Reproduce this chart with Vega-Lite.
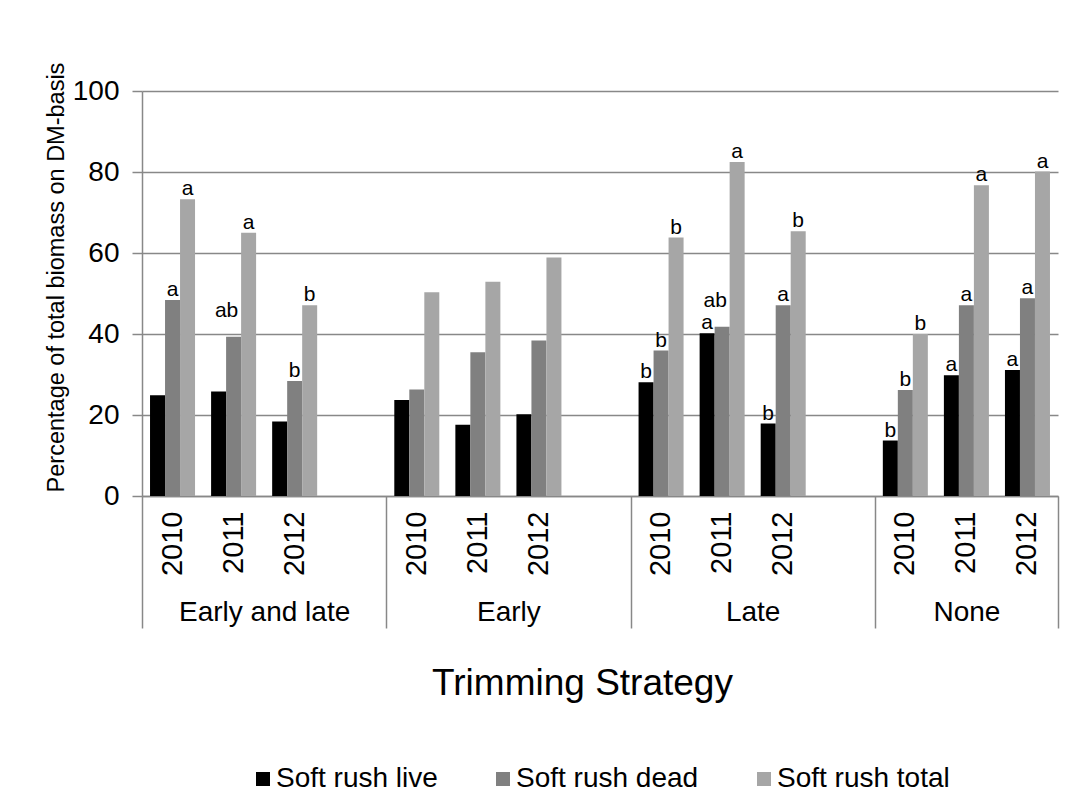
{
  "$schema": "https://vega.github.io/schema/vega-lite/v6.json",
  "autosize": "none",
  "width": 916,
  "height": 405,
  "padding": {"left": 142, "top": 91, "right": 15, "bottom": 315},
  "background": "white",
  "config": {
    "view": {"stroke": null},
    "font": "Liberation Sans",
    "axis": {"labelFont": "Liberation Sans", "titleFont": "Liberation Sans", "labelColor": "#000000", "titleColor": "#000000", "titleFontWeight": "normal"},
    "legend": {"labelFont": "Liberation Sans"}
  },
  "datasets": {
    "bars": [
      {"strategy": "Early and late", "year": "2010", "component": "Soft rush live", "value": 24.9, "sig": ""},
      {"strategy": "Early and late", "year": "2010", "component": "Soft rush dead", "value": 48.4, "sig": "a"},
      {"strategy": "Early and late", "year": "2010", "component": "Soft rush total", "value": 73.3, "sig": "a"},
      {"strategy": "Early and late", "year": "2011", "component": "Soft rush live", "value": 25.8, "sig": ""},
      {"strategy": "Early and late", "year": "2011", "component": "Soft rush dead", "value": 39.3, "sig": "ab"},
      {"strategy": "Early and late", "year": "2011", "component": "Soft rush total", "value": 65.0, "sig": "a"},
      {"strategy": "Early and late", "year": "2012", "component": "Soft rush live", "value": 18.4, "sig": ""},
      {"strategy": "Early and late", "year": "2012", "component": "Soft rush dead", "value": 28.4, "sig": "b"},
      {"strategy": "Early and late", "year": "2012", "component": "Soft rush total", "value": 47.1, "sig": "b"},
      {"strategy": "Early", "year": "2010", "component": "Soft rush live", "value": 23.7, "sig": ""},
      {"strategy": "Early", "year": "2010", "component": "Soft rush dead", "value": 26.3, "sig": ""},
      {"strategy": "Early", "year": "2010", "component": "Soft rush total", "value": 50.3, "sig": ""},
      {"strategy": "Early", "year": "2011", "component": "Soft rush live", "value": 17.6, "sig": ""},
      {"strategy": "Early", "year": "2011", "component": "Soft rush dead", "value": 35.5, "sig": ""},
      {"strategy": "Early", "year": "2011", "component": "Soft rush total", "value": 52.9, "sig": ""},
      {"strategy": "Early", "year": "2012", "component": "Soft rush live", "value": 20.2, "sig": ""},
      {"strategy": "Early", "year": "2012", "component": "Soft rush dead", "value": 38.4, "sig": ""},
      {"strategy": "Early", "year": "2012", "component": "Soft rush total", "value": 58.9, "sig": ""},
      {"strategy": "Late", "year": "2010", "component": "Soft rush live", "value": 28.1, "sig": "b"},
      {"strategy": "Late", "year": "2010", "component": "Soft rush dead", "value": 35.9, "sig": "b"},
      {"strategy": "Late", "year": "2010", "component": "Soft rush total", "value": 63.8, "sig": "b"},
      {"strategy": "Late", "year": "2011", "component": "Soft rush live", "value": 40.2, "sig": "a"},
      {"strategy": "Late", "year": "2011", "component": "Soft rush dead", "value": 41.8, "sig": "ab"},
      {"strategy": "Late", "year": "2011", "component": "Soft rush total", "value": 82.5, "sig": "a"},
      {"strategy": "Late", "year": "2012", "component": "Soft rush live", "value": 17.9, "sig": "b"},
      {"strategy": "Late", "year": "2012", "component": "Soft rush dead", "value": 47.1, "sig": "a"},
      {"strategy": "Late", "year": "2012", "component": "Soft rush total", "value": 65.4, "sig": "b"},
      {"strategy": "None", "year": "2010", "component": "Soft rush live", "value": 13.7, "sig": "b"},
      {"strategy": "None", "year": "2010", "component": "Soft rush dead", "value": 26.2, "sig": "b"},
      {"strategy": "None", "year": "2010", "component": "Soft rush total", "value": 40.0, "sig": "b"},
      {"strategy": "None", "year": "2011", "component": "Soft rush live", "value": 29.8, "sig": "a"},
      {"strategy": "None", "year": "2011", "component": "Soft rush dead", "value": 47.1, "sig": "a"},
      {"strategy": "None", "year": "2011", "component": "Soft rush total", "value": 76.7, "sig": "a"},
      {"strategy": "None", "year": "2012", "component": "Soft rush live", "value": 31.1, "sig": "a"},
      {"strategy": "None", "year": "2012", "component": "Soft rush dead", "value": 48.8, "sig": "a"},
      {"strategy": "None", "year": "2012", "component": "Soft rush total", "value": 80.1, "sig": "a"}
    ],
    "groups": [
      {"strategy": "Early and late", "start": 0, "end": 4},
      {"strategy": "Early", "start": 4, "end": 8},
      {"strategy": "Late", "start": 8, "end": 12},
      {"strategy": "None", "start": 12, "end": 15}
    ]
  },
  "layer": [
    {
      "data": {"name": "bars"},
      "transform": [{"calculate": "datum.strategy + '|' + datum.year", "as": "slot"}],
      "encoding": {
        "x": {
          "field": "slot", "type": "nominal", "sort": null,
          "scale": {
            "domain": ["Early and late|2010", "Early and late|2011", "Early and late|2012", "Early and late|gap",
                       "Early|2010", "Early|2011", "Early|2012", "Early|gap",
                       "Late|2010", "Late|2011", "Late|2012", "Late|gap",
                       "None|2010", "None|2011", "None|2012"],
            "paddingInner": 0, "paddingOuter": 0
          },
          "axis": {
            "orient": "bottom",
            "title": null,
            "labelExpr": "split(datum.label, '|')[1] == 'gap' ? '' : split(datum.label, '|')[1]",
            "labelAngle": -90, "labelAlign": "right", "labelBaseline": "middle",
            "labelFontSize": 29, "labelPadding": 15, "ticks": false,
            "domainColor": "#888888", "domainWidth": 1.5,
            "labelOverlap": false, "labelBound": false, "grid": false
          }
        },
        "xOffset": {
          "field": "component", "type": "nominal",
          "scale": {"domain": ["Soft rush live", "Soft rush dead", "Soft rush total"], "paddingInner": 0, "paddingOuter": 0.535}
        },
        "y": {
          "field": "value", "type": "quantitative",
          "scale": {"domain": [0, 100], "nice": false},
          "axis": {
            "values": [0, 20, 40, 60, 80, 100],
            "title": "Percentage of total biomass on DM-basis",
            "titleFontSize": 23.5, "titleAngle": -90, "titleAlign": "center", "titleBaseline": "alphabetic",
            "titleX": -79, "titleY": 186,
            "labelFontSize": 28, "labelPadding": 13,
            "tickSize": 10, "tickColor": "#888888", "tickWidth": 1.5,
            "domainColor": "#888888", "domainWidth": 1.5,
            "grid": true, "gridColor": "#888888", "gridWidth": 1.5
          }
        }
      },
      "layer": [
        {
          "mark": {"type": "bar"},
          "encoding": {
            "color": {
              "field": "component", "type": "nominal",
              "scale": {"domain": ["Soft rush live", "Soft rush dead", "Soft rush total"], "range": ["#000000", "#808080", "#a6a6a6"]},
              "legend": {
                "title": null, "orient": "none", "direction": "horizontal",
                "legendX": 107, "legendY": 674, "padding": 0,
                "symbolType": "square", "symbolSize": 196, "symbolStrokeWidth": 0,
                "labelFontSize": 28, "labelOffset": -1, "labelLimit": 400, "columnPadding": 51, "labelColor": "#000000"
              }
            }
          }
        },
        {
          "transform": [{"filter": "datum.sig != 'ab'"}],
          "mark": {"type": "text", "baseline": "alphabetic", "align": "center", "dy": -4, "fontSize": 21, "color": "#000000", "font": "Liberation Sans"},
          "encoding": {"text": {"field": "sig"}}
        },
        {
          "transform": [{"filter": "datum.sig == 'ab'"}],
          "mark": {"type": "text", "baseline": "alphabetic", "align": "center", "dy": -20, "dx": -7, "fontSize": 21, "color": "#000000", "font": "Liberation Sans"},
          "encoding": {"text": {"field": "sig"}}
        }
      ]
    },
    {
      "data": {"name": "groups"},
      "mark": {"type": "rect", "opacity": 0},
      "encoding": {
        "x": {
          "field": "start", "type": "quantitative",
          "scale": {"domain": [0, 15], "nice": false, "zero": false},
          "axis": {
            "orient": "bottom",
            "values": [0, 2, 4, 6, 8, 10, 12, 13.5, 15],
            "labelExpr": "datum.value == 2 ? 'Early and late' : datum.value == 6 ? 'Early' : datum.value == 10 ? 'Late' : datum.value == 13.5 ? 'None' : ''",
            "labelFontSize": 28, "labelBaseline": "alphabetic", "labelPadding": -8,
            "labelOverlap": false, "labelFlush": false, "labelBound": false,
            "tickSize": 132, "tickColor": "#888888", "tickWidth": 1.5,
            "tickOpacity": {"condition": {"test": "datum.value == 2 || datum.value == 6 || datum.value == 10 || datum.value == 13.5", "value": 0}, "value": 1},
            "domain": false, "grid": false,
            "title": "Trimming Strategy", "titleFontSize": 37, "titleAlign": "center", "titleBaseline": "alphabetic",
            "titleX": 440, "titleY": 198
          }
        },
        "x2": {"field": "end"}
      }
    }
  ],
  "resolve": {"scale": {"x": "independent"}, "axis": {"x": "independent"}}
}
